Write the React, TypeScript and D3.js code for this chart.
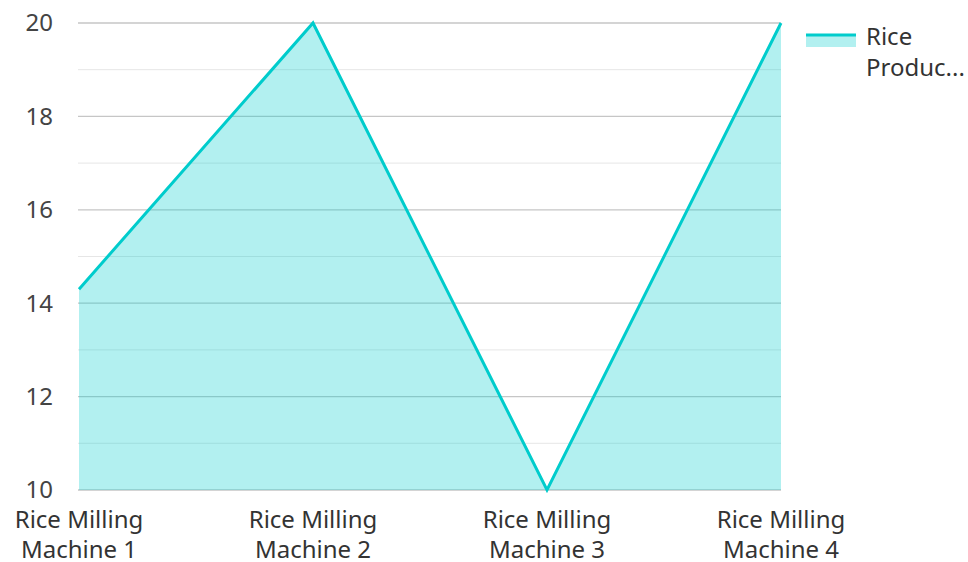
import React, { useEffect, useRef } from 'react';
import * as d3 from 'd3';

const categories = ['Rice Milling Machine 1', 'Rice Milling Machine 2', 'Rice Milling Machine 3', 'Rice Milling Machine 4'];
const values = [14.3, 20, 10, 20];
const majorTicks = [10, 12, 14, 16, 18, 20];
const minorTicks = [11, 13, 15, 17, 19];
const seriesName = 'Rice Production';

const LINE = '#00cccc';
const FONT = '"Noto Sans", sans-serif';

const App: React.FC = () => {
  const svgRef = useRef<SVGSVGElement>(null);

  useEffect(() => {
    if (!svgRef.current) return;
    const svg = d3.select(svgRef.current);
    svg.selectAll('*').remove();

    const left = 79, right = 781, top = 23, bottom = 490;

    const x = d3.scalePoint<string>().domain(categories).range([left, right]);
    const y = d3.scaleLinear().domain([10, 20]).range([bottom, top]);

    // Grid
    svg.append('g').selectAll('line').data(minorTicks).enter().append('line')
      .attr('x1', left - 1).attr('x2', right)
      .attr('y1', d => y(d)).attr('y2', d => y(d))
      .attr('stroke', '#e6e6e6').attr('stroke-width', 1);
    svg.append('g').selectAll('line').data(majorTicks).enter().append('line')
      .attr('x1', left - 1).attr('x2', right)
      .attr('y1', d => y(d)).attr('y2', d => y(d))
      .attr('stroke', '#c6c6c6').attr('stroke-width', 1.3);

    // Y tick labels
    svg.append('g').selectAll('text').data(majorTicks).enter().append('text')
      .attr('x', 53).attr('y', d => y(d)).attr('dy', '0.35em')
      .attr('text-anchor', 'end')
      .style('font-family', FONT).style('font-size', '24px').style('fill', '#444')
      .text(d => d);

    // Area + line
    const area = d3.area<number>()
      .x((_, i) => x(categories[i]) as number)
      .y0(y(10)).y1(d => y(d));
    const line = d3.line<number>()
      .x((_, i) => x(categories[i]) as number)
      .y(d => y(d));

    svg.append('path').datum(values).attr('d', area)
      .attr('fill', LINE).attr('fill-opacity', 0.3);
    svg.append('path').datum(values).attr('d', line)
      .attr('fill', 'none').attr('stroke', LINE).attr('stroke-width', 3)
      .attr('stroke-linejoin', 'miter');

    // X labels (two lines)
    const xl = svg.append('g').selectAll('text').data(categories).enter().append('text')
      .attr('text-anchor', 'middle')
      .style('font-family', FONT).style('font-size', '24px').style('fill', '#333');
    xl.each(function (d) {
      const words = d.split(' ');
      const t = d3.select(this);
      const cx = x(d) as number;
      t.append('tspan').attr('x', cx).attr('y', 528).text(words.slice(0, 2).join(' '));
      t.append('tspan').attr('x', cx).attr('y', 558).text(words.slice(2).join(' '));
    });

    // Legend
    const lg = svg.append('g');
    lg.append('rect').attr('x', 806).attr('y', 35).attr('width', 50).attr('height', 12)
      .attr('fill', LINE).attr('fill-opacity', 0.3);
    lg.append('line').attr('x1', 806).attr('x2', 856).attr('y1', 35).attr('y2', 35)
      .attr('stroke', LINE).attr('stroke-width', 3);
    const lt = lg.append('text')
      .style('font-family', FONT).style('font-size', '24px').style('fill', '#333');
    lt.append('tspan').attr('x', 866).attr('y', 45).text('Rice');
    lt.append('tspan').attr('x', 866).attr('y', 76).text(seriesName.split(' ')[1].slice(0, 6) + '...');
  }, []);

  return (
    <svg ref={svgRef} width={968} height={562}
      style={{ position: 'absolute', left: 0, top: 0, background: '#fff' }} />
  );
};

export default App;
